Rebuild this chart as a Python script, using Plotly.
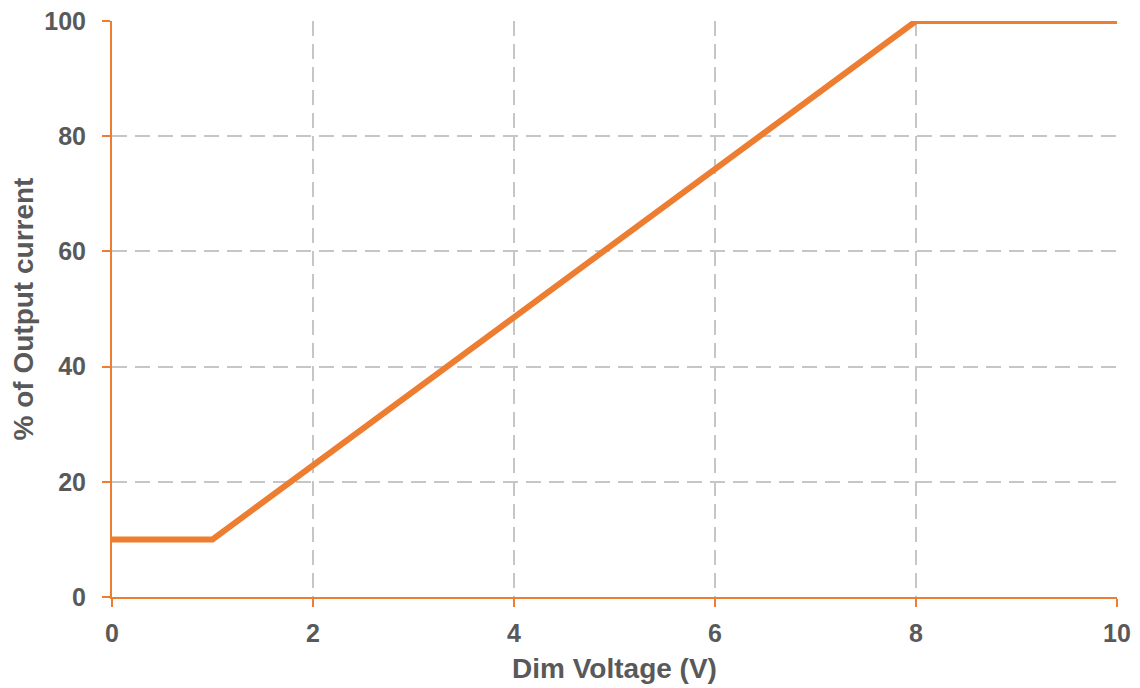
import plotly.graph_objects as go

dim_voltage = [0, 1, 8, 10]
output_pct = [10, 10, 100, 100]
x_ticks = [0, 2, 4, 6, 8, 10]
y_ticks = [0, 20, 40, 60, 80, 100]

orange = "#ED7D31"
text_gray = "#595959"
grid_gray = "#C6C6C6"
font_fam = "Liberation Sans, Arial, sans-serif"

fig = go.Figure()
fig.add_trace(go.Scatter(x=dim_voltage, y=output_pct, mode="lines",
                         line=dict(color=orange, width=6), showlegend=False))

# page body has an 8px margin, so the figure is shrunk by 8px and margins offset
fig.update_layout(
    width=1132, height=680,
    margin=dict(l=104, r=23, t=13, b=91),
    paper_bgcolor="white", plot_bgcolor="white",
    font=dict(family=font_fam, color=text_gray),
)
fig.update_xaxes(
    range=[0, 10], tickvals=x_ticks, ticktext=[str(v) for v in x_ticks],
    showline=True, linecolor=orange, linewidth=2,
    ticks="outside", ticklen=8, tickcolor=orange, tickwidth=2,
    ticklabelstandoff=5, ticklabeloverflow="allow",
    showgrid=True, gridcolor=grid_gray, gridwidth=2, griddash="15px,8px",
    zeroline=False, automargin=False,
    tickfont=dict(family=font_fam, size=25, color=text_gray, weight="bold"),
    title=dict(text="<b>Dim Voltage (V)</b>", font=dict(family=font_fam, size=28, color=text_gray), standoff=12),
)
fig.update_yaxes(
    range=[0, 100], tickvals=y_ticks, ticktext=[str(v) for v in y_ticks],
    showline=True, linecolor=orange, linewidth=2,
    ticks="outside", ticklen=8, tickcolor=orange, tickwidth=2,
    ticklabelstandoff=11, ticklabeloverflow="allow",
    showgrid=True, gridcolor=grid_gray, gridwidth=2, griddash="15px,8px",
    zeroline=False, automargin=False,
    tickfont=dict(family=font_fam, size=25, color=text_gray, weight="bold"),
    title=dict(text="<b>% of Output current</b>", font=dict(family=font_fam, size=28, color=text_gray), standoff=21),
)

fig.write_html("out.html")
